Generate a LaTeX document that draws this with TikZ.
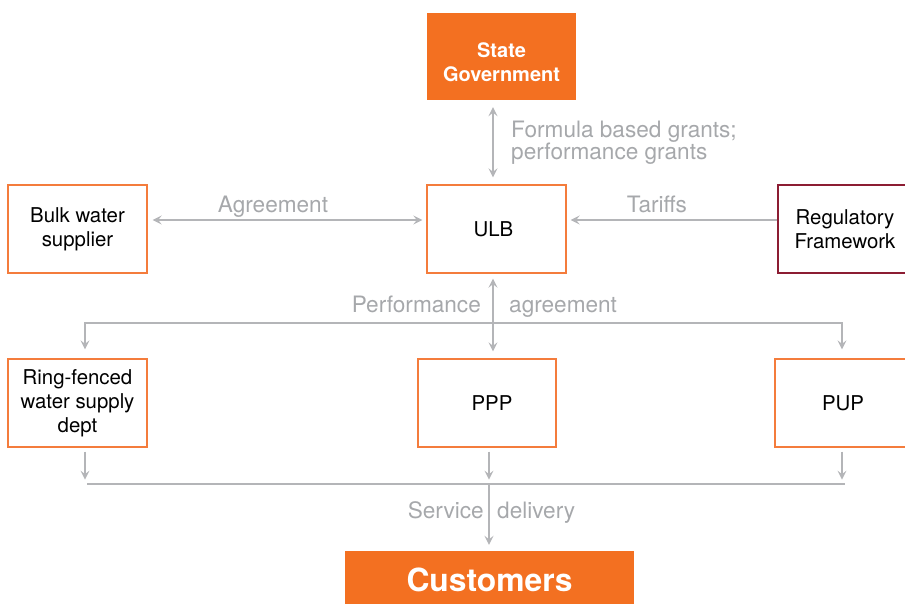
\documentclass[tikz,border=0pt]{standalone}
\usepackage{fontspec}
\setmainfont{TeX Gyre Heros}
\usetikzlibrary{arrows.meta}
\definecolor{orfill}{HTML}{F37021}
\definecolor{orline}{HTML}{F47C3C}
\definecolor{darkred}{HTML}{8C1D33}
\definecolor{arrgray}{HTML}{B4B5B8}
\definecolor{txtgray}{HTML}{A6A8AB}
\tikzset{
  box/.style={draw=orline, line width=1.3pt, fill=white, inner sep=0pt, align=center,
    font=\fontsize{20.4}{24.2}\selectfont, text=black},
  redbox/.style={box, draw=darkred},
  solidbox/.style={fill=orfill, inner sep=0pt},
  whitetext/.style={inner sep=0pt, align=center, text=white,
    font=\bfseries\fontsize{20}{24}\selectfont},
  conn/.style={draw=arrgray, line width=1.4pt},
  tip/.style={conn, -{Stealth[length=9pt,width=9pt,inset=3.5pt]}},
  dtip/.style={conn, {Stealth[length=9pt,width=9pt,inset=3.5pt]}-{Stealth[length=9pt,width=9pt,inset=3.5pt]}},
  glabel/.style={text=txtgray, inner sep=0pt, font=\fontsize{22.6}{22}\selectfont}
}
\begin{document}
\begin{tikzpicture}[x=1pt,y=-1pt]
\useasboundingbox (0,0) rectangle (905,603);
% nodes
\node[solidbox, minimum width=149pt, minimum height=87pt] (sg) at (501.5,56.5) {};
\node[whitetext] (sgt) at ([yshift=-5.5pt]sg.center) {State\\Government};
\node[box, minimum width=139pt, minimum height=88pt] (bulk) at (77.5,229) {Bulk water\\supplier};
\node[box, minimum width=139pt, minimum height=88pt] (ulb) at (496.5,229) {ULB\hspace*{6pt}};
\node[redbox, minimum width=129pt, minimum height=88pt] (reg) at (842.5,229) {\hspace*{5pt}Regulatory\\\hspace*{5pt}Framework};
\node[box, minimum width=139pt, minimum height=88pt] (ring) at (77.5,403) {Ring-fenced\\water supply\\dept};
\node[box, minimum width=138pt, minimum height=88pt] (ppp) at (487,403) {\hspace*{10pt}PPP};
\node[box, minimum width=132pt, minimum height=88pt] (pup) at (841,403) {\hspace*{4pt}PUP};
\node[solidbox, minimum width=289pt, minimum height=54pt] (cust) at (489.5,578) {};
\node[whitetext, font=\bfseries\fontsize{31.8}{34}\selectfont] (custt) at ([yshift=-2pt]cust.center) {Customers};
% coordinates
\coordinate (fork) at (493,323);
\coordinate (busL) at (87,484);
\coordinate (busR) at (845,484);
\coordinate (bus) at (489,484);
% connectors
\draw[dtip] ([xshift=-8.5pt,yshift=-7pt]sg.south) -- ([xshift=-3.5pt,yshift=7pt]ulb.north);
\draw[dtip] ([xshift=5pt,yshift=9pt]bulk.east) -- ([xshift=-4pt,yshift=9pt]ulb.west);
\draw[tip] ([yshift=9pt]reg.west) -- ([xshift=4pt,yshift=9pt]ulb.east);
\draw[dtip] ([xshift=-3.5pt,yshift=-5pt]ulb.south) -- ([xshift=6pt,yshift=7pt]ppp.north);
\draw[tip] (fork) -| ([xshift=7.5pt,yshift=9pt]ring.north);
\draw[tip] (fork) -| ([xshift=1pt,yshift=9pt]pup.north);
\draw[tip] ([xshift=7.5pt,yshift=-4pt]ring.south) -- ++(0,28);
\draw[tip] ([xshift=2pt,yshift=-4pt]ppp.south) -- ++(0,28);
\draw[tip] ([xshift=1pt,yshift=-4pt]pup.south) -- ++(0,28);
\draw[conn] (busL) -- (busR);
\draw[tip] (bus) -- ([yshift=6pt]cust.north -| bus);
% labels
\node[glabel, anchor=base west] (lf1) at (511,137) {Formula based grants;};
\node[glabel, anchor=base west] (lf2) at (511,159) {performance grants};
\node[glabel, anchor=base] (la) at (273,212) {Agreement};
\node[glabel, anchor=base] (lt) at (657,212) {Tariffs};
\node[glabel, anchor=base east] (lp) at (481,312) {Performance};
\node[glabel, anchor=base west] (lp2) at (509,312) {agreement};
\node[glabel, anchor=base east] (ls) at (484,518) {Service};
\node[glabel, anchor=base west] (ls2) at (497,518) {delivery};
\end{tikzpicture}
\end{document}
